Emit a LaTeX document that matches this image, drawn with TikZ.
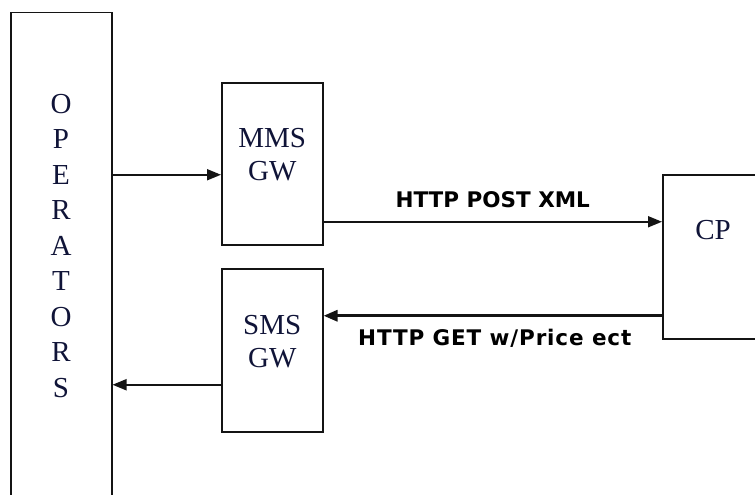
\documentclass[tikz,border=0pt]{standalone}
\usepackage{fontspec}
\setmainfont{Liberation Serif}
\newfontfamily\labelfont{DejaVu Sans}
\usepackage{tikz}
\usetikzlibrary{arrows.meta, positioning}
\definecolor{boxtext}{RGB}{16,20,56}
\definecolor{edgegray}{RGB}{20,20,20}

\begin{document}
\begin{tikzpicture}[x=1pt, y=1pt,
  unitbox/.style={rectangle, draw=edgegray, line width=1.5pt, inner sep=0pt},
  boxname/.style={font=\fontsize{29}{33}\selectfont, text=boxtext, align=center, inner sep=0pt},
  arrow/.style={-{Triangle[length=14pt, width=11pt]}, line width=1.8pt, edgegray},
  msg/.style={font=\labelfont\bfseries\fontsize{21.5}{24}\selectfont, text=black}
]
\useasboundingbox (0,0) rectangle (755,-495);
\clip (0,0) rectangle (755,-495);

% operators column, runs past the bottom edge
\node[unitbox, minimum width=101, minimum height=520, anchor=north west] (ops) at (10,-12) {};
\node[font=\fontsize{29}{35.5}\selectfont, text=boxtext, align=center, inner sep=0pt] (opsname) at (61,-246)
  {O\\P\\E\\R\\A\\T\\O\\R\\S};

% gateways
\node[unitbox, minimum width=101, minimum height=162, anchor=north west] (mms) at (221,-82) {};
\node[boxname] (mmsname) at ([yshift=9]mms.center) {MMS\\GW};
\node[unitbox, minimum width=101, minimum height=163, anchor=north west] (sms) at (221,-268) {};
\node[boxname] (smsname) at ([yshift=9]sms.center) {SMS\\GW};

% content provider, runs past the right edge
\node[unitbox, minimum width=130, minimum height=164, anchor=north west] (cp) at (662,-174) {};
\node[boxname] (cpname) at (713,-230) {CP};

% connector ends
\coordinate (mmsin) at ([yshift=-11]mms.west);
\coordinate (cpin) at ([yshift=35]cp.west);
\coordinate (cpout) at ([yshift=-59]cp.west);
\coordinate (smsout) at ([yshift=-34.5]sms.west);

% arrows
\draw[arrow] (ops.east |- mmsin) -- (mmsin);
\draw[arrow] (mms.east |- cpin) -- node[msg, above=10pt]{HTTP POST XML} (cpin);
\draw[arrow, line width=3pt] (cpout) -- node[msg, below=9pt, xshift=2pt]{\addfontfeature{LetterSpace=4}HTTP GET w/Price ect} (sms.east |- cpout);
\draw[arrow] (smsout) -- (ops.east |- smsout);

\end{tikzpicture}
\end{document}
